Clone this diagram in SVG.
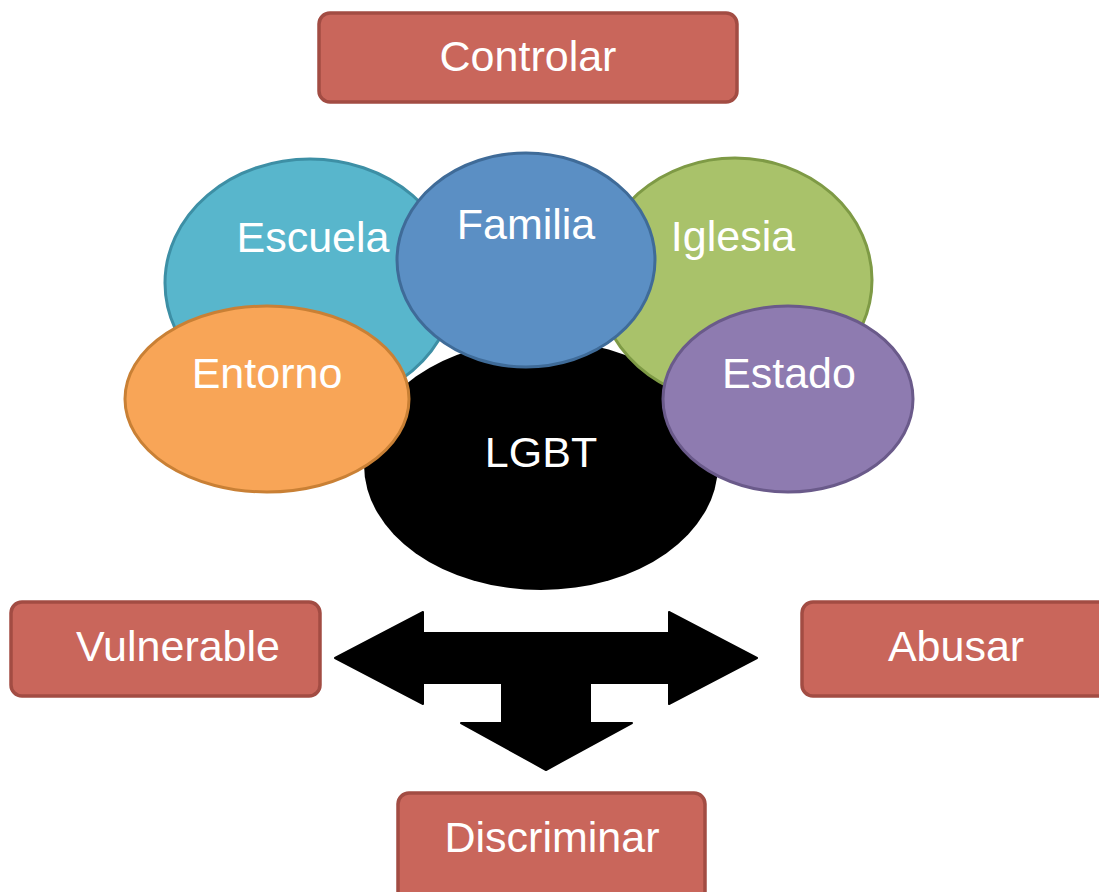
<svg xmlns="http://www.w3.org/2000/svg" width="1099" height="892" viewBox="0 0 1099 892">
<style>
.box{fill:#C9665B;stroke:#A24C43;stroke-width:3.5}
.lbl{font-family:"Liberation Sans",Arial,sans-serif;font-size:43px;fill:#FFFFFF;text-anchor:middle}
.el{stroke-width:3}
</style>
<rect width="1099" height="892" fill="#FFFFFF"/>
<g id="controlar"><rect class="box" x="319" y="13" width="418" height="89" rx="11"/><text class="lbl" x="528" y="71">Controlar</text></g>
<g id="lgbt"><ellipse cx="541" cy="465" rx="177" ry="125" fill="#000000"/><text class="lbl" x="541" y="467">LGBT</text></g>
<g id="escuela"><ellipse class="el" cx="310" cy="283" rx="145" ry="124" fill="#58B6CC" stroke="#3D8FA5"/><text class="lbl" x="313" y="252">Escuela</text></g>
<g id="iglesia"><ellipse class="el" cx="735" cy="280" rx="137" ry="122" fill="#A9C26A" stroke="#7E9A45"/><text class="lbl" x="733" y="251">Iglesia</text></g>
<g id="familia"><ellipse class="el" cx="526" cy="260" rx="129" ry="107" fill="#5B8FC4" stroke="#3F6B98"/><text class="lbl" x="526" y="239">Familia</text></g>
<g id="entorno"><ellipse class="el" cx="267" cy="399" rx="142" ry="93" fill="#F8A557" stroke="#C98035"/><text class="lbl" x="267" y="388">Entorno</text></g>
<g id="estado"><ellipse class="el" cx="788" cy="399" rx="125" ry="93" fill="#8E7BB0" stroke="#6A5A8A"/><text class="lbl" x="789" y="388">Estado</text></g>
<g id="connectors"><path d="M335,658 L423,612 L423,633 L669,633 L669,612 L757,658 L669,704 L669,683 L590,683 L590,723 L632,723 L546,770 L461,723 L502,723 L502,683 L423,683 L423,704 Z" fill="#000000" stroke="#000000" stroke-width="2" stroke-linejoin="round"/></g>
<g id="vulnerable"><rect class="box" x="11" y="602" width="309" height="94" rx="11"/><text class="lbl" x="178" y="661">Vulnerable</text></g>
<g id="abusar"><rect class="box" x="802" y="602" width="310" height="94" rx="11"/><text class="lbl" x="956" y="661">Abusar</text></g>
<g id="discriminar"><rect class="box" x="398" y="793" width="307" height="110" rx="11"/><text class="lbl" x="552" y="852">Discriminar</text></g>
</svg>
